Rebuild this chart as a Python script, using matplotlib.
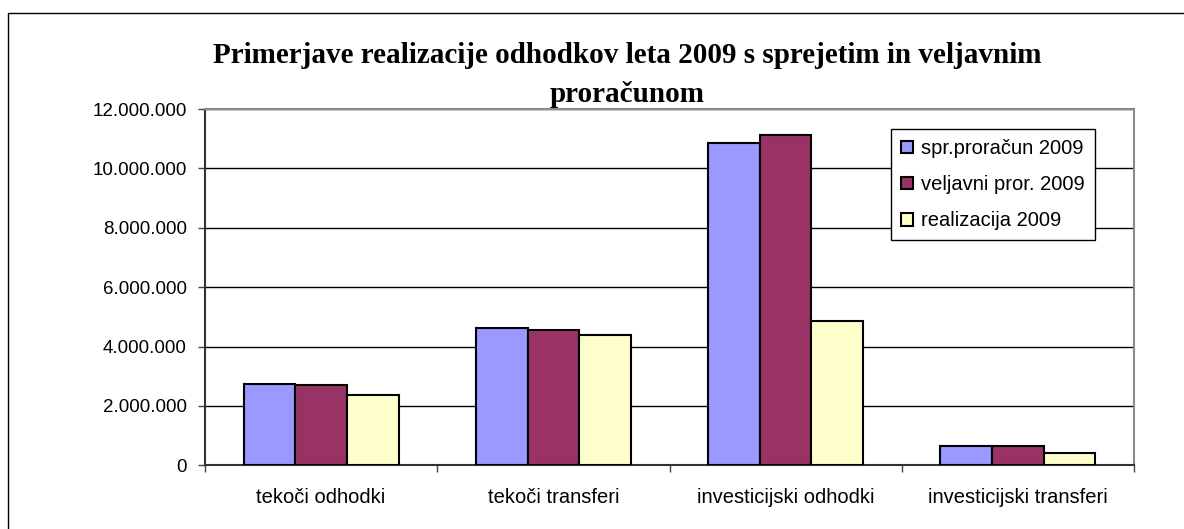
"""Clustered bar chart: 2009 expenditure, adopted vs valid budget vs realisation."""

import matplotlib

matplotlib.use("Agg")
import matplotlib.pyplot as plt
import numpy as np
from matplotlib.patches import Rectangle
from matplotlib.ticker import FuncFormatter, FixedLocator

categories = [
    "tekoči odhodki",
    "tekoči transferi",
    "investicijski odhodki",
    "investicijski transferi",
]
series_names = ["spr.proračun 2009", "veljavni pror. 2009", "realizacija 2009"]
spr_proracun = [2_740_000, 4_640_000, 10_840_000, 640_000]
veljavni = [2_700_000, 4_570_000, 11_110_000, 640_000]
realizacija = [2_370_000, 4_380_000, 4_860_000, 430_000]
y_ticks = [0, 2_000_000, 4_000_000, 6_000_000, 8_000_000, 10_000_000, 12_000_000]

colors = ["#9999FF", "#993366", "#FFFFCC"]

W, H = 1184, 529
fig = plt.figure(figsize=(W / 100, H / 100), dpi=100)
ax = fig.add_axes([205 / W, 1 - 465.3 / H, (1134 - 205) / W, (465.3 - 109) / H])

x = np.arange(len(categories))
bw = 1 / 4.5
for i, (vals, name) in enumerate(zip([spr_proracun, veljavni, realizacija], series_names)):
    ax.bar(x + (i - 1) * bw, vals, width=bw, color=colors[i], edgecolor="black",
           linewidth=1.5, label=name, zorder=3)

ax.set_xlim(-0.5, len(categories) - 0.5)
ax.set_ylim(0, 12_000_000)
ax.yaxis.set_major_locator(FixedLocator(y_ticks))
ax.yaxis.set_major_formatter(FuncFormatter(lambda v, _: f"{int(v):,}".replace(",", ".")))
ax.grid(axis="y", color="black", linewidth=1.0, zorder=1)

ax.set_xticks(x)
ax.set_xticklabels(categories)
ax.set_xticks(np.arange(-0.5, len(categories)), minor=True)
ax.tick_params(axis="x", which="major", length=0, pad=16)
ax.tick_params(axis="x", which="minor", length=5, width=1, color="#444444", direction="out")
ax.tick_params(axis="y", length=5, width=1, color="#444444", pad=8)
for lab in ax.get_xticklabels():
    lab.set_fontfamily("Liberation Sans")
    lab.set_fontsize(14.5)
for lab in ax.get_yticklabels():
    lab.set_fontfamily("Liberation Sans")
    lab.set_fontsize(13.5)

for side in ["top", "right"]:
    ax.spines[side].set_color("#8a8a8a")
    ax.spines[side].set_linewidth(1.5)
for side in ["left", "bottom"]:
    ax.spines[side].set_color("#333333")
    ax.spines[side].set_linewidth(1.5)

leg = ax.legend(loc="upper left", bbox_to_anchor=(0.738, 0.944),
                prop={"family": "Liberation Sans", "size": 14.5},
                frameon=True, fancybox=False, framealpha=1, edgecolor="black",
                handlelength=0.6, handleheight=0.6, handletextpad=0.4,
                labelspacing=0.85, borderpad=0.5, borderaxespad=0)
leg.get_frame().set_linewidth(1.0)
leg.set_zorder(5)

title_kw = dict(ha="center", va="baseline", family="Liberation Serif", weight="bold", fontsize=21)
fig.text(627 / W, 1 - 63 / H, "Primerjave realizacije odhodkov leta 2009 s sprejetim in veljavnim", **title_kw)
fig.text(627 / W, 1 - 102 / H, "proračunom", **title_kw)

fig.patches.append(Rectangle((8 / W, -0.2), 1.2, 1.2 - 13 / H, transform=fig.transFigure,
                             fill=False, edgecolor="black", linewidth=1.0))

fig.savefig("out.png", dpi=100)
